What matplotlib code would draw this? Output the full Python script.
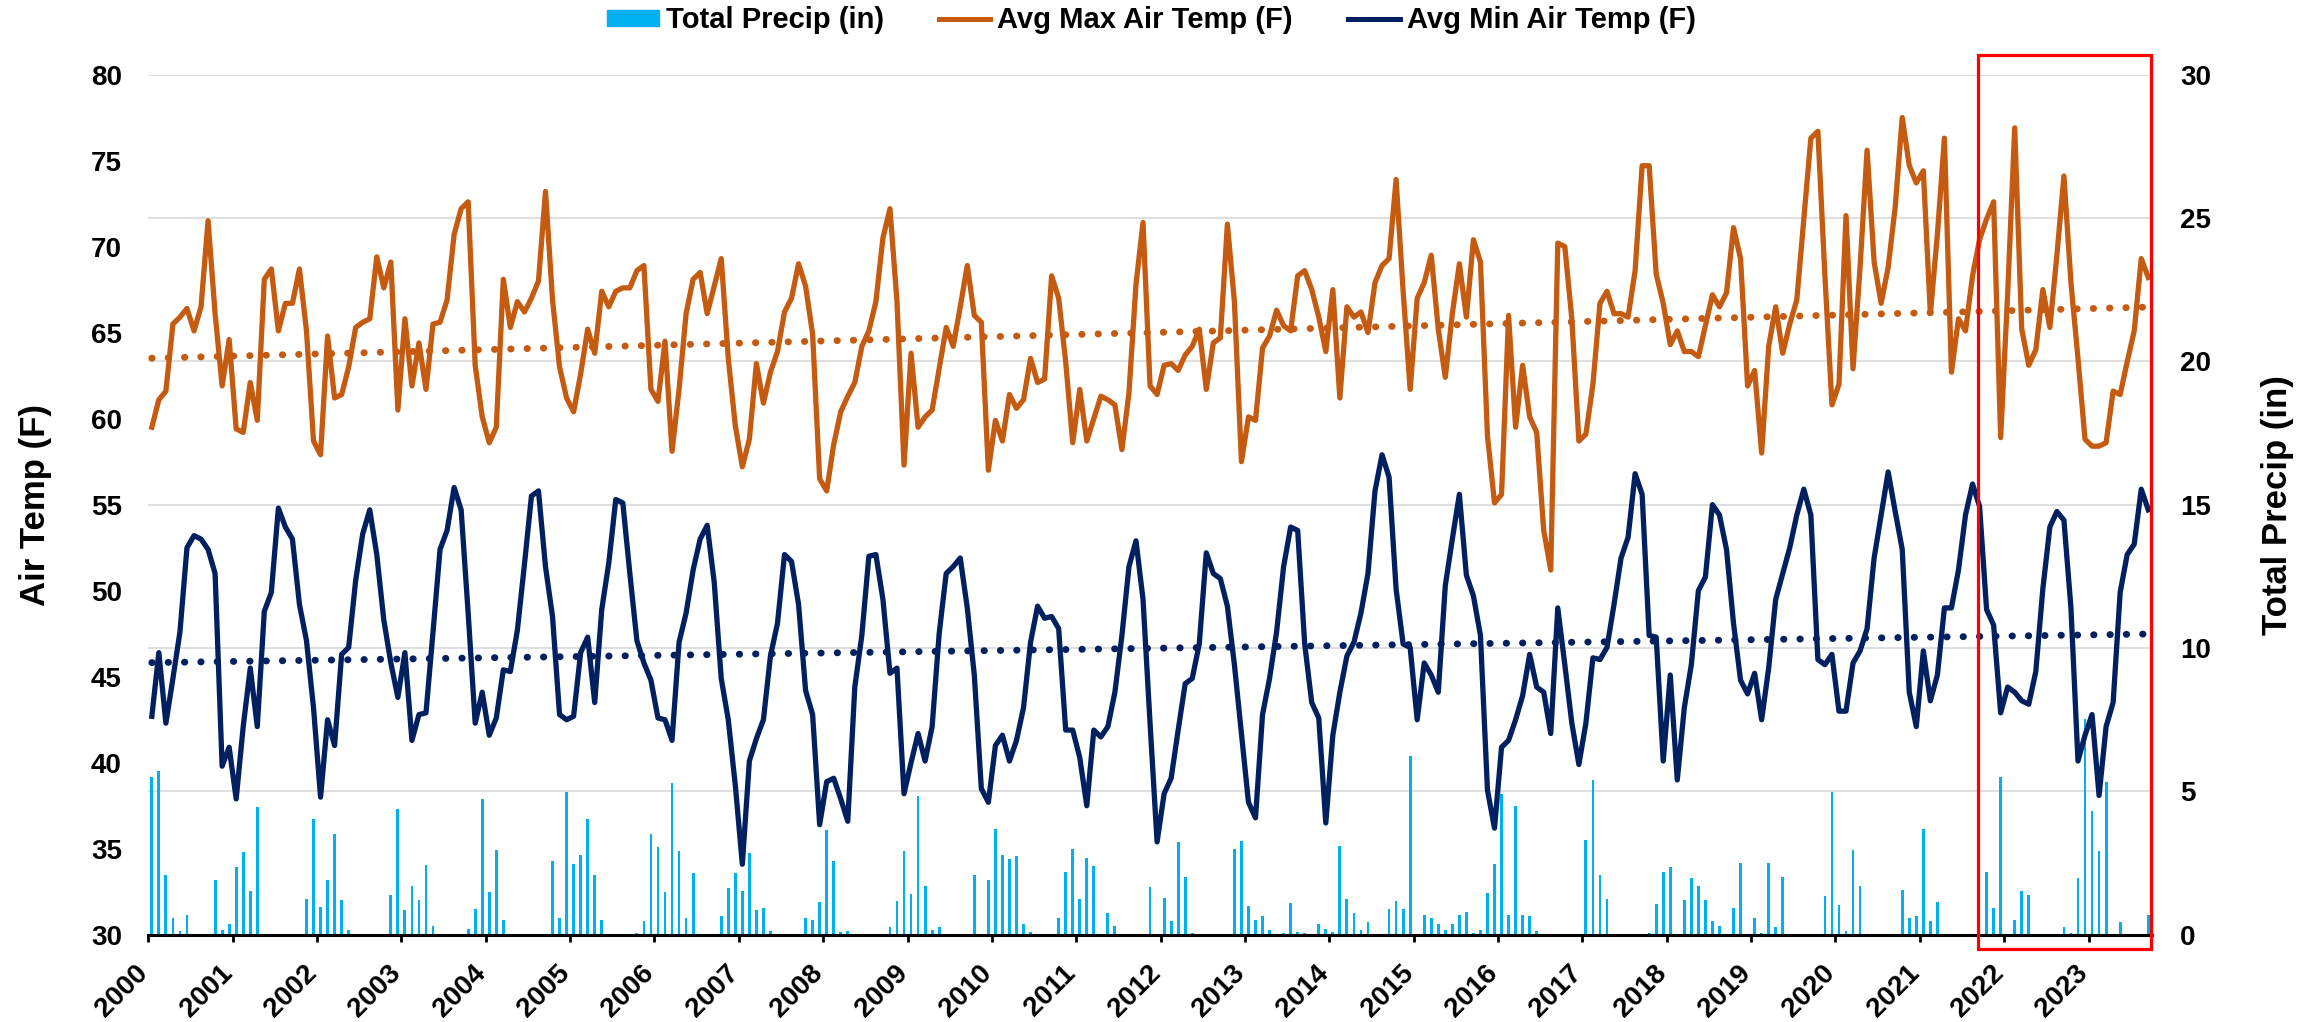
import numpy as np
import matplotlib
matplotlib.use('Agg')
import matplotlib.pyplot as plt
import matplotlib.transforms as mtransforms
from matplotlib.patches import Rectangle, Patch
from matplotlib.lines import Line2D

plt.rcParams['font.family'] = ['Liberation Sans', 'DejaVu Sans']
plt.rcParams['font.weight'] = 'bold'

# monthly values, Jan 2000 .. Sep 2023 (one row per year)
years = list(range(2000, 2024))

tmax = [
    59.5, 61.1, 61.6, 65.5, 65.9, 66.4, 65.1, 66.5, 71.5, 66.1, 61.9, 64.6,
    59.4, 59.2, 62.1, 59.9, 68.1, 68.7, 65.1, 66.7, 66.7, 68.7, 65.1, 58.7,
    57.9, 64.8, 61.2, 61.4, 63.0, 65.3, 65.6, 65.8, 69.4, 67.6, 69.1, 60.5,
    65.8, 61.9, 64.4, 61.7, 65.5, 65.6, 66.9, 70.7, 72.2, 72.6, 63.1, 60.1,
    58.6, 59.5, 68.1, 65.3, 66.8, 66.2, 67.0, 68.0, 73.2, 66.9, 63.0, 61.2,
    60.4, 62.6, 65.2, 63.8, 67.4, 66.5, 67.4, 67.6, 67.6, 68.6, 68.9, 61.7,
    61.0, 64.5, 58.1, 61.7, 66.1, 68.1, 68.5, 66.1, 67.7, 69.3, 63.5, 59.6,
    57.2, 58.8, 63.2, 60.9, 62.7, 63.9, 66.2, 67.0, 69.0, 67.7, 64.9, 56.5,
    55.8, 58.5, 60.4, 61.3, 62.1, 64.2, 65.1, 66.8, 70.5, 72.2, 66.8, 57.3,
    63.8, 59.5, 60.1, 60.5, 62.9, 65.3, 64.2, 66.5, 68.9, 66.0, 65.6, 57.0,
    59.9, 58.7, 61.4, 60.6, 61.1, 63.5, 62.1, 62.3, 68.3, 67.0, 63.3, 58.6,
    61.7, 58.7, 60.0, 61.3, 61.1, 60.8, 58.2, 61.5, 67.8, 71.4, 61.9, 61.4,
    63.1, 63.2, 62.8, 63.7, 64.2, 65.2, 61.7, 64.4, 64.7, 71.3, 66.8, 57.5,
    60.1, 59.9, 64.1, 64.8, 66.3, 65.4, 65.1, 68.3, 68.6, 67.5, 65.9, 63.9,
    67.5, 61.2, 66.5, 65.9, 66.2, 65.0, 67.9, 68.9, 69.3, 73.9, 67.4, 61.7,
    67.0, 67.9, 69.5, 65.2, 62.4, 66.1, 69.0, 65.9, 70.4, 69.1, 59.0, 55.1,
    55.6, 66.0, 59.5, 63.1, 60.1, 59.2, 53.5, 51.2, 70.2, 70.0, 65.8, 58.7,
    59.1, 62.0, 66.7, 67.4, 66.1, 66.1, 65.9, 68.6, 74.7, 74.7, 68.4, 66.7,
    64.3, 65.1, 63.9, 63.9, 63.6, 65.4, 67.2, 66.5, 67.3, 71.1, 69.3, 61.9,
    62.8, 58.0, 64.2, 66.5, 63.8, 65.5, 66.9, 71.6, 76.3, 76.7, 68.3, 60.8,
    62.0, 71.8, 62.9, 68.8, 75.6, 69.1, 66.7, 68.8, 72.3, 77.5, 74.7, 73.7,
    74.4, 66.1, 70.7, 76.3, 62.7, 65.8, 65.1, 68.3, 70.4, 71.6, 72.6, 58.9,
    67.3, 76.9, 65.2, 63.1, 64.0, 67.5, 65.3, 69.5, 74.1, 67.9, 63.5, 58.8,
    58.4, 58.4, 58.6, 61.6, 61.4, 63.3, 65.1, 69.3, 68.2,
]

tmin = [
    42.7, 46.4, 42.3, 44.9, 47.6, 52.5, 53.2, 53.0, 52.4, 51.0, 39.8, 40.9,
    37.9, 42.1, 45.5, 42.1, 48.8, 49.9, 54.8, 53.7, 53.0, 49.2, 47.1, 43.2,
    38.0, 42.5, 41.0, 46.3, 46.7, 50.6, 53.3, 54.7, 52.1, 48.3, 45.8, 43.8,
    46.4, 41.3, 42.8, 42.9, 47.6, 52.4, 53.5, 56.0, 54.7, 48.7, 42.3, 44.1,
    41.6, 42.6, 45.4, 45.3, 47.7, 51.5, 55.5, 55.8, 51.4, 48.5, 42.8, 42.5,
    42.7, 46.4, 47.3, 43.5, 48.9, 51.6, 55.3, 55.1, 51.0, 47.1, 45.8, 44.8,
    42.6, 42.5, 41.3, 47.0, 48.7, 51.2, 53.0, 53.8, 50.5, 44.9, 42.5, 38.7,
    34.1, 40.1, 41.4, 42.5, 46.2, 48.1, 52.1, 51.7, 49.2, 44.2, 42.8, 36.4,
    38.9, 39.1, 37.9, 36.6, 44.4, 47.4, 52.0, 52.1, 49.5, 45.2, 45.5, 38.2,
    40.0, 41.7, 40.1, 42.1, 47.5, 51.0, 51.4, 51.9, 49.0, 45.1, 38.5, 37.7,
    41.0, 41.6, 40.1, 41.3, 43.2, 47.0, 49.1, 48.4, 48.5, 47.8, 41.9, 41.9,
    40.3, 37.5, 41.9, 41.5, 42.1, 44.1, 47.4, 51.4, 52.9, 49.5, 42.3, 35.4,
    38.2, 39.1, 41.9, 44.6, 44.9, 46.9, 52.2, 51.0, 50.7, 49.1, 45.7, 41.7,
    37.7, 36.8, 42.8, 44.9, 47.6, 51.4, 53.7, 53.5, 46.9, 43.5, 42.6, 36.5,
    41.6, 44.1, 46.2, 47.0, 48.7, 51.0, 55.8, 57.9, 56.6, 50.1, 46.9, 46.7,
    42.5, 45.8, 45.1, 44.1, 50.3, 53.0, 55.6, 50.9, 49.7, 47.4, 38.4, 36.2,
    40.9, 41.3, 42.5, 43.9, 46.3, 44.4, 44.1, 41.7, 49.0, 45.7, 42.3, 39.9,
    42.3, 46.1, 46.0, 46.7, 49.2, 51.9, 53.1, 56.8, 55.6, 47.4, 47.3, 40.1,
    45.1, 39.0, 43.2, 45.7, 50.0, 50.8, 55.0, 54.4, 52.4, 48.1, 44.8, 44.0,
    45.2, 42.5, 45.5, 49.5, 51.0, 52.5, 54.4, 55.9, 54.4, 46.0, 45.7, 46.3,
    43.0, 43.0, 45.8, 46.5, 47.8, 51.9, 54.4, 56.9, 54.6, 52.4, 44.1, 42.1,
    46.5, 43.6, 45.1, 49.0, 49.0, 51.2, 54.4, 56.2, 54.9, 48.9, 48.0, 42.9,
    44.4, 44.1, 43.6, 43.4, 45.3, 50.1, 53.7, 54.6, 54.1, 49.0, 40.1, 41.6,
    42.8, 38.1, 42.1, 43.5, 49.9, 52.1, 52.7, 55.9, 54.7,
]

precip = [
    5.49, 5.70, 2.07, 0.60, 0.15, 0.70, 0, 0, 0, 1.90, 0.17, 0.38,
    2.35, 2.88, 1.54, 4.47, 0, 0, 0, 0, 0, 0, 1.26, 4.04,
    0.96, 1.90, 3.53, 1.22, 0.17, 0, 0, 0, 0, 0, 1.39, 4.38,
    0.85, 1.71, 1.22, 2.44, 0.32, 0, 0, 0, 0, 0.21, 0.90, 4.72,
    1.50, 2.95, 0.53, 0, 0.04, 0, 0, 0, 0, 2.56, 0.58, 4.98,
    2.46, 2.78, 4.04, 2.09, 0.53, 0, 0, 0, 0, 0.06, 0.49, 3.53,
    3.06, 1.50, 5.28, 2.93, 0.58, 2.16, 0, 0, 0, 0.64, 1.65, 2.16,
    1.54, 2.84, 0.85, 0.92, 0.15, 0, 0, 0, 0, 0.58, 0.53, 1.13,
    3.65, 2.56, 0.10, 0.15, 0, 0, 0, 0, 0, 0.26, 1.18, 2.93,
    1.43, 4.85, 1.71, 0.17, 0.26, 0, 0, 0, 0, 2.09, 0, 1.90,
    3.68, 2.78, 2.63, 2.74, 0.38, 0.09, 0, 0, 0, 0.58, 2.18, 2.99,
    1.26, 2.67, 2.41, 0, 0.75, 0.32, 0, 0, 0, 0, 1.67, 0,
    1.28, 0.47, 3.25, 2.03, 0.06, 0, 0, 0, 0, 0, 3.01, 3.27,
    1.00, 0.53, 0.64, 0.17, 0, 0.06, 1.11, 0.10, 0.06, 0, 0.38, 0.21,
    0.10, 3.10, 1.24, 0.75, 0.17, 0.43, 0, 0, 0.90, 1.18, 0.90, 6.24,
    0, 0.68, 0.58, 0.36, 0.17, 0.36, 0.68, 0.79, 0.06, 0.17, 1.45, 2.46,
    4.91, 0.70, 4.49, 0.68, 0.64, 0.15, 0, 0, 0, 0, 0, 0,
    3.31, 5.40, 2.09, 1.24, 0, 0.04, 0, 0, 0, 0.06, 1.07, 2.20,
    2.35, 0, 1.22, 1.99, 1.71, 1.22, 0.47, 0.32, 0, 0.92, 2.52, 0,
    0.58, 0.06, 2.52, 0.26, 2.03, 0.04, 0, 0, 0.04, 0, 1.35, 4.98,
    1.03, 0.15, 2.95, 1.71, 0.04, 0, 0, 0, 0, 1.56, 0.60, 0.64,
    3.68, 0.47, 1.13, 0, 0.04, 0, 0, 0, 0, 2.20, 0.92, 5.49,
    0, 0.53, 1.54, 1.39, 0, 0.04, 0, 0, 0.26, 0.06, 1.97, 7.54,
    4.32, 2.93, 5.34, 0, 0.43, 0, 0, 0, 0.68,
]

c_max = '#C55A11'
c_min = '#002060'
c_bar = '#00B0F0'

idx = np.arange(len(tmax))

fig = plt.figure(figsize=(23.21, 10.22), dpi=100)
ax = fig.add_axes([0.0639, 0.0853, 0.8635, 0.8418])
ax2 = ax.twinx()
ax.set_zorder(ax2.get_zorder() + 1)
ax.patch.set_visible(False)

# precip bars on the right axis (drawn below the lines)
ax2.bar(idx, precip, width=0.4, color=c_bar, zorder=2)
ax2.set_ylim(0, 30)
ax2.set_yticks(range(0, 31, 5))
ax2.grid(axis='y', color='#D9D9D9', lw=1.2, zorder=0)
ax2.set_axisbelow(True)
ax2.tick_params(axis='y', length=0, pad=20, labelsize=20)
ax2.set_ylabel('Total Precip (in)', fontsize=25, fontweight='bold')
ax2.yaxis.set_label_coords(1.054, 0.5)
for s in ax2.spines.values():
    s.set_visible(False)

# temperature lines + linear trends
ax.plot(idx, tmax, color=c_max, lw=3.8)
ax.plot(idx, tmin, color=c_min, lw=3.8)
for ser, col in [(tmax, c_max), (tmin, c_min)]:
    p = np.polyfit(idx, ser, 1)
    ax.plot(idx, np.polyval(p, idx), color=col, lw=5,
            ls=(0, (0.05, 2.3)), dash_capstyle='round')

ax.set_xlim(-0.5, len(tmax) - 0.4)
ax.set_ylim(30, 80)
ax.set_yticks(range(30, 81, 5))
ax.tick_params(axis='y', length=0, pad=19, labelsize=20)
ax.set_ylabel('Air Temp (F)', fontsize=25, fontweight='bold')
ax.yaxis.set_label_coords(-0.048, 0.5)

ax.set_xticks([12 * k - 0.5 for k in range(len(years))])
ax.set_xticklabels([str(y) for y in years], rotation=45, ha='right')
ax.tick_params(axis='x', direction='out', length=5, width=2, pad=13,
               labelsize=20, color='black')
shift = mtransforms.ScaledTranslation(0.05, 0, fig.dpi_scale_trans)
for lab in ax.get_xticklabels():
    lab.set_transform(lab.get_transform() + shift)

for side in ['top', 'left', 'right']:
    ax.spines[side].set_visible(False)
ax.spines['bottom'].set_linewidth(2.2)
ax.spines['bottom'].set_color('black')

# highlight box
box = Rectangle((259.8, 29.17), 284.4 - 259.8, 81.15 - 29.17, fill=False,
                edgecolor='#FF0000', lw=2.3, clip_on=False, zorder=10)
ax.add_patch(box)

handles = [Patch(color=c_bar),
           Line2D([], [], color=c_max, lw=3.6),
           Line2D([], [], color=c_min, lw=3.6)]
labels = ['Total Precip (in)', 'Avg Max Air Temp (F)', 'Avg Min Air Temp (F)']
fig.legend(handles, labels, loc='center', bbox_to_anchor=(0.496, 0.980),
           ncol=3, frameon=False, fontsize=21, handlelength=1.78,
           handleheight=0.5, handletextpad=0.24, columnspacing=1.88)

fig.savefig('out.png', dpi=100)
